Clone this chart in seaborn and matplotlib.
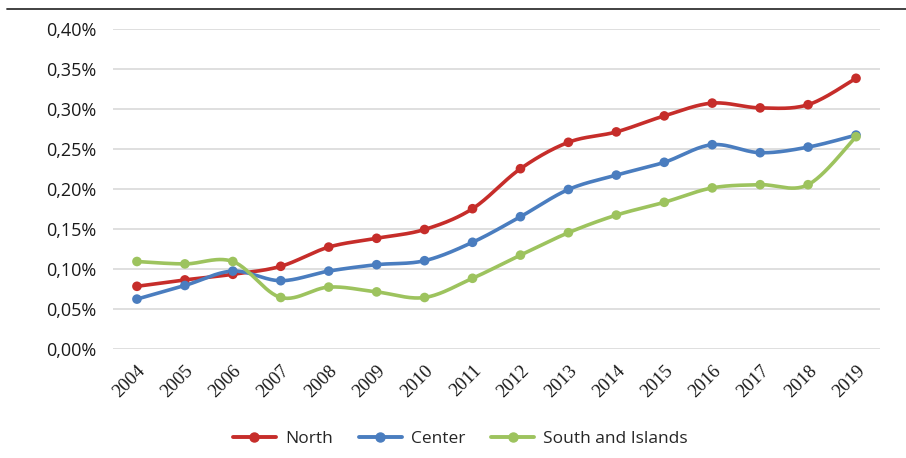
import numpy as np
import pandas as pd
import matplotlib
matplotlib.use("Agg")
import matplotlib.pyplot as plt
from matplotlib.lines import Line2D
from matplotlib.ticker import FuncFormatter
import seaborn as sns

sns.set_theme(style="white")
plt.rcParams['font.family'] = ['Open Sans', 'DejaVu Sans']

# dati (valori in %)
years = [str(y) for y in range(2004, 2020)]
north = [0.079, 0.087, 0.094, 0.104, 0.128, 0.139, 0.150, 0.176,
         0.226, 0.259, 0.272, 0.292, 0.308, 0.302, 0.306, 0.339]
center = [0.063, 0.080, 0.098, 0.086, 0.098, 0.106, 0.111, 0.134,
          0.166, 0.200, 0.218, 0.234, 0.256, 0.246, 0.253, 0.268]
south = [0.110, 0.107, 0.110, 0.065, 0.078, 0.072, 0.065, 0.089,
         0.118, 0.146, 0.168, 0.184, 0.202, 0.206, 0.206, 0.266]
series_names = ['North', 'Center', 'South and Islands']
colors = {'North': '#C62D2A', 'Center': '#4A7DBF', 'South and Islands': '#9DC35E'}

df = pd.DataFrame({'North': north, 'Center': center, 'South and Islands': south})
df['x'] = np.arange(len(years))
df_long = df.melt(id_vars='x', var_name='area', value_name='valore')


def smooth(x, y, n=30):
    # curva tipo Excel (Bezier / Catmull-Rom)
    p = np.column_stack([x, y]).astype(float)
    pe = np.vstack([p[0], p, p[-1]])
    out = []
    t = np.linspace(0, 1, n)[:, None]
    for i in range(len(p) - 1):
        p0, p1, p2, p3 = pe[i], pe[i + 1], pe[i + 2], pe[i + 3]
        b1 = p1 + (p2 - p0) / 6
        b2 = p2 - (p3 - p1) / 6
        seg = ((1 - t) ** 3) * p1 + 3 * ((1 - t) ** 2) * t * b1 + 3 * (1 - t) * t ** 2 * b2 + t ** 3 * p2
        out.append(seg if i == 0 else seg[1:])
    out = np.vstack(out)
    return out[:, 0], out[:, 1]


fig = plt.figure(figsize=(9.06, 4.58), dpi=100)
ax = fig.add_axes([0.1247, 0.2369, 0.9713 - 0.1247, 0.9356 - 0.2369])

for name in series_names:
    xs, ys = smooth(df['x'].values, df[name].values)
    sns.lineplot(x=xs, y=ys, sort=False, estimator=None, color=colors[name],
                 linewidth=2.6, ax=ax, zorder=3)

sns.scatterplot(data=df_long, x='x', y='valore', hue='area', palette=colors,
                s=48, edgecolor=None, linewidth=0, ax=ax, zorder=4, legend=False)

ax.set_xlim(-0.5, len(years) - 0.5)
ax.set_ylim(0, 0.40)
ax.set_yticks(np.arange(0, 0.401, 0.05))
ax.yaxis.set_major_formatter(FuncFormatter(lambda v, p: f"{v:.2f}%".replace('.', ',')))
ax.set_xticks(df['x'])
ax.set_xticklabels(years, rotation=45, ha='right', rotation_mode='anchor',
                   family='Liberation Serif', fontsize=13.5, color='#1a1a1a')
ax.tick_params(axis='y', labelsize=13, labelcolor='#1a1a1a', length=0, pad=12)
ax.tick_params(axis='x', length=0, pad=9)
ax.grid(axis='y', color='#D9D9D9', linewidth=1.2)
ax.set_axisbelow(True)
for s in ax.spines.values():
    s.set_visible(False)
ax.set_xlabel('')
ax.set_ylabel('')

handles = [Line2D([0], [0], color=colors[n], lw=2.8, marker='o', markersize=6.5) for n in series_names]
fig.legend(handles, series_names, loc='center', bbox_to_anchor=(0.508, 0.042), ncol=3,
           frameon=False, fontsize=12.5, handlelength=2.5, columnspacing=1.5, handletextpad=0.5)

fig.add_artist(Line2D([7 / 906, 1], [1 - 9 / 458, 1 - 9 / 458], color='#333333', lw=1.3))

plt.savefig('out.png', dpi=100)
